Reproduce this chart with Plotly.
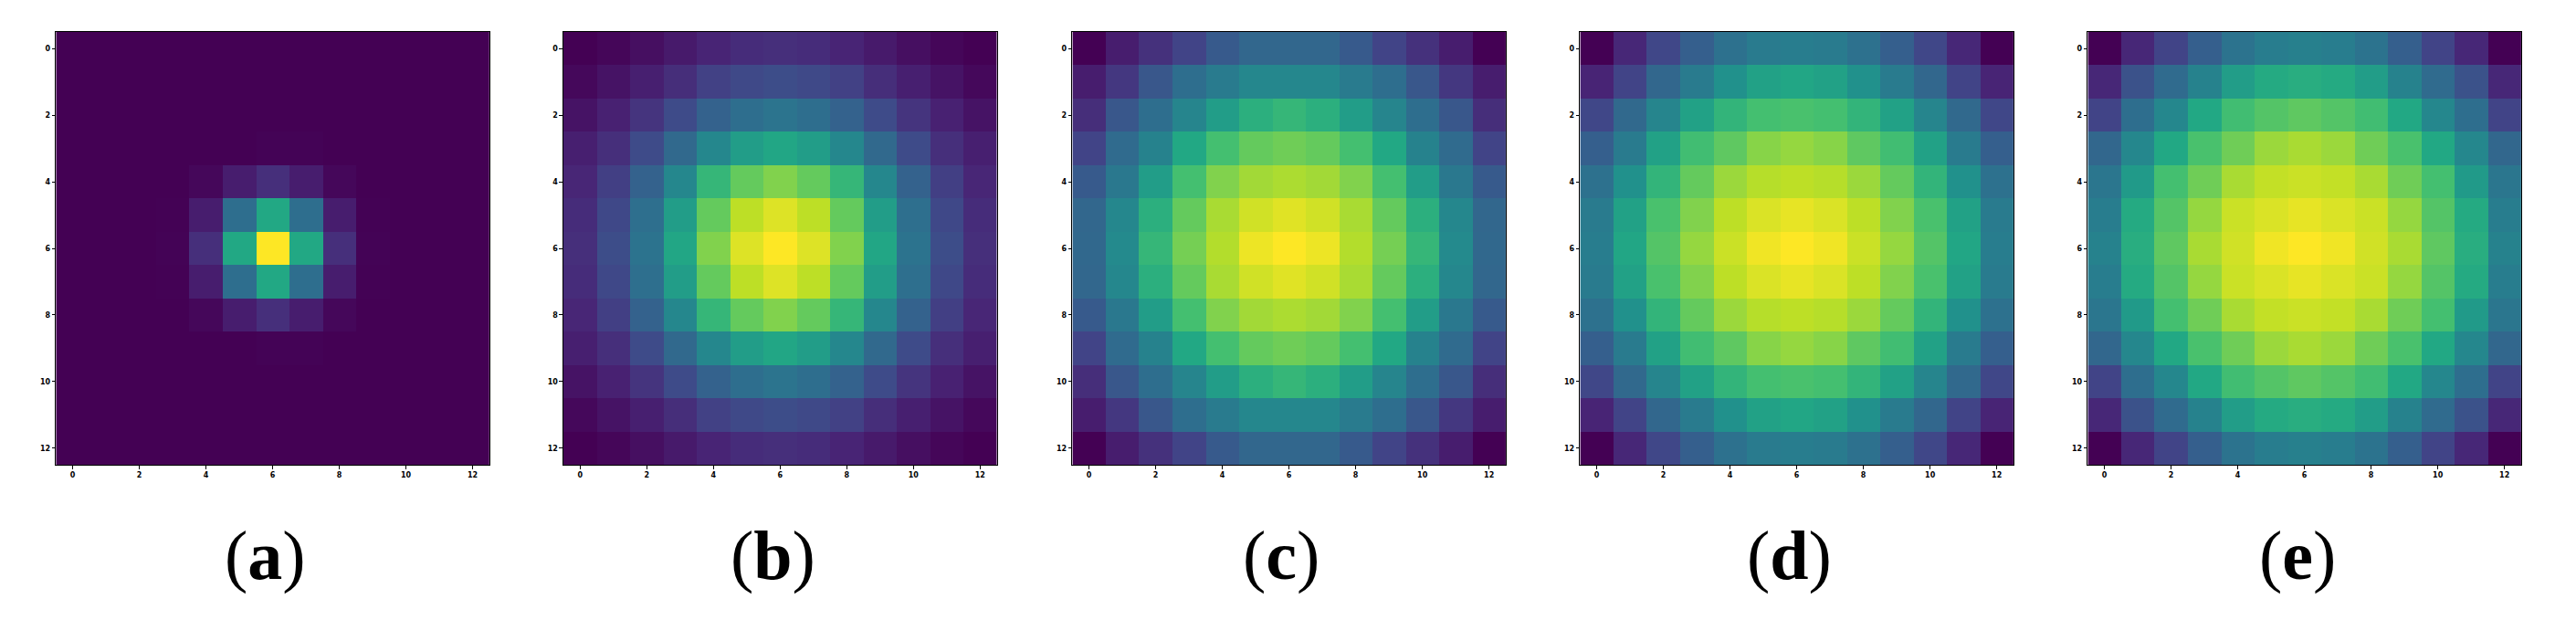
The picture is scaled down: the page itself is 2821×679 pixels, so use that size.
import plotly.graph_objects as go

W, H = 2821, 679

grid_a = [
 [0,0,0,0,0,0,0,0,0,0,0,0,0],
 [0,0,0,0,0,0,0,0,0,0,0,0,0],
 [0,0,0,0,0,0,0,0,0,0,0,0,0],
 [0,0,0,0,0,0.001,0.005,0.005,0.001,0,0,0,0],
 [0,0,0,0.001,0.018,0.08,0.135,0.08,0.018,0.001,0,0,0],
 [0,0,0,0.002,0.08,0.36,0.6,0.36,0.08,0.002,0,0,0],
 [0,0,0,0.006,0.135,0.6,1.0,0.6,0.135,0.006,0,0,0],
 [0,0,0,0.002,0.08,0.36,0.6,0.36,0.08,0.002,0,0,0],
 [0,0,0,0.001,0.018,0.08,0.135,0.08,0.018,0.001,0,0,0],
 [0,0,0,0,0,0.001,0.005,0.005,0.001,0,0,0,0],
 [0,0,0,0,0,0,0,0,0,0,0,0,0],
 [0,0,0,0,0,0,0,0,0,0,0,0,0],
 [0,0,0,0,0,0,0,0,0,0,0,0,0],
]
grid_b = [
 [.00,.015,.04,.07,.10,.125,.135,.125,.10,.07,.04,.015,.00],
 [.02,.05,.085,.13,.19,.22,.235,.22,.19,.13,.085,.05,.02],
 [.05,.09,.15,.225,.31,.36,.385,.36,.31,.225,.15,.09,.05],
 [.085,.135,.225,.34,.46,.55,.59,.55,.46,.34,.225,.135,.085],
 [.105,.185,.31,.46,.66,.76,.81,.76,.66,.46,.31,.185,.105],
 [.125,.215,.365,.55,.76,.90,.95,.90,.76,.55,.365,.215,.125],
 [.135,.235,.38,.59,.81,.95,1.0,.95,.81,.59,.38,.235,.135],
 [.125,.215,.365,.55,.76,.90,.95,.90,.76,.55,.365,.215,.125],
 [.105,.185,.31,.46,.66,.76,.81,.76,.66,.46,.31,.185,.105],
 [.085,.135,.225,.34,.46,.55,.59,.55,.46,.34,.225,.135,.085],
 [.05,.09,.15,.225,.31,.36,.385,.36,.31,.225,.15,.09,.05],
 [.02,.05,.085,.13,.19,.22,.235,.22,.19,.13,.085,.05,.02],
 [.00,.015,.04,.07,.10,.125,.135,.125,.10,.07,.04,.015,.00],
]
grid_c = [
 [.00,.08,.14,.20,.28,.33,.33,.33,.28,.20,.14,.08,.00],
 [.08,.16,.27,.36,.41,.46,.46,.46,.41,.36,.27,.16,.08],
 [.13,.27,.36,.45,.55,.63,.66,.63,.55,.45,.36,.27,.13],
 [.20,.35,.44,.60,.70,.76,.78,.76,.70,.60,.44,.35,.20],
 [.28,.40,.55,.70,.81,.86,.875,.86,.81,.70,.55,.40,.28],
 [.33,.46,.63,.76,.87,.93,.955,.93,.87,.76,.63,.46,.33],
 [.335,.47,.66,.79,.885,.975,1.0,.975,.885,.79,.66,.47,.335],
 [.33,.46,.63,.76,.87,.93,.955,.93,.87,.76,.63,.46,.33],
 [.28,.40,.55,.70,.81,.86,.875,.86,.81,.70,.55,.40,.28],
 [.20,.35,.44,.60,.70,.76,.78,.76,.70,.60,.44,.35,.20],
 [.13,.27,.36,.45,.55,.63,.66,.63,.55,.45,.36,.27,.13],
 [.08,.16,.27,.36,.41,.46,.46,.46,.41,.36,.27,.16,.08],
 [.00,.08,.14,.20,.28,.33,.33,.33,.28,.20,.14,.08,.00],
]
grid_d = [
 [.00,.11,.21,.30,.37,.41,.42,.41,.37,.30,.21,.11,.00],
 [.10,.20,.33,.41,.50,.57,.59,.57,.50,.41,.33,.20,.10],
 [.21,.34,.45,.57,.65,.70,.71,.70,.65,.57,.45,.34,.21],
 [.30,.41,.57,.69,.75,.82,.84,.82,.75,.69,.57,.41,.30],
 [.37,.50,.65,.76,.85,.89,.90,.89,.85,.76,.65,.50,.37],
 [.41,.57,.71,.81,.90,.945,.965,.945,.90,.81,.71,.57,.41],
 [.42,.59,.73,.84,.92,.98,1.0,.98,.92,.84,.73,.59,.42],
 [.41,.57,.71,.81,.90,.945,.965,.945,.90,.81,.71,.57,.41],
 [.37,.50,.65,.76,.85,.89,.90,.89,.85,.76,.65,.50,.37],
 [.30,.41,.57,.69,.75,.82,.84,.82,.75,.69,.57,.41,.30],
 [.21,.34,.45,.57,.65,.70,.71,.70,.65,.57,.45,.34,.21],
 [.10,.20,.33,.41,.50,.57,.59,.57,.50,.41,.33,.20,.10],
 [.00,.11,.21,.30,.37,.41,.42,.41,.37,.30,.21,.11,.00],
]
grid_e = [
 [.00,.11,.20,.30,.38,.42,.43,.42,.38,.30,.20,.11,.00],
 [.11,.25,.35,.44,.55,.61,.62,.61,.55,.44,.35,.25,.11],
 [.20,.36,.46,.60,.69,.73,.75,.73,.69,.60,.46,.36,.20],
 [.33,.46,.60,.71,.78,.85,.87,.85,.78,.71,.60,.46,.33],
 [.39,.54,.70,.78,.87,.91,.92,.91,.87,.78,.70,.54,.39],
 [.42,.61,.73,.84,.92,.945,.965,.945,.92,.84,.73,.61,.42],
 [.44,.62,.75,.87,.93,.98,1.0,.98,.93,.87,.75,.62,.44],
 [.42,.61,.73,.84,.92,.945,.965,.945,.92,.84,.73,.61,.42],
 [.39,.54,.70,.78,.87,.91,.92,.91,.87,.78,.70,.54,.39],
 [.33,.46,.60,.71,.78,.85,.87,.85,.78,.71,.60,.46,.33],
 [.20,.36,.46,.60,.69,.73,.75,.73,.69,.60,.46,.36,.20],
 [.11,.25,.35,.44,.55,.61,.62,.61,.55,.44,.35,.25,.11],
 [.00,.11,.20,.30,.38,.42,.43,.42,.38,.30,.20,.11,.00],
]
grids = [grid_a, grid_b, grid_c, grid_d, grid_e]
captions = ["a", "b", "c", "d", "e"]
tick_values = [0, 2, 4, 6, 8, 10, 12]
cells = list(range(13))
viridis_colors = ["#440154", "#482475", "#414487", "#355f8d", "#2a788e", "#21918c",
                  "#22a884", "#44bf70", "#7ad151", "#bddf26", "#fde725"]
viridis = [[k / 10, c] for k, c in enumerate(viridis_colors)]

panel_left = [61.3, 617.0, 1174.4, 1730.4, 2286.4]
panel_size = 474.5
panel_top, panel_bottom = 35.0, 509.0
caption_x = [290.0, 846.0, 1403.0, 1959.0, 2516.0]
caption_y = 608.0

fig = go.Figure()
axis_style = dict(
    tickmode="array", tickvals=tick_values, ticks="outside", ticklen=3.5, tickwidth=1,
    tickcolor="black", showgrid=False, zeroline=False, showline=True, mirror=True,
    linecolor="black", linewidth=1.2, constrain="domain",
    tickfont=dict(family="DejaVu Sans", size=8, color="black", weight="bold"),
)
layout = {}
for i, (grid, left) in enumerate(zip(grids, panel_left)):
    n = "" if i == 0 else str(i + 1)
    fig.add_trace(go.Heatmap(
        z=grid, x=cells, y=cells, colorscale=viridis, zmin=0, zmax=1,
        showscale=False, xaxis=f"x{n}", yaxis=f"y{n}", xgap=0, ygap=0,
    ))
    layout[f"xaxis{n}"] = dict(axis_style, range=[-0.5, 12.5], anchor=f"y{n}",
                               domain=[left / W, (left + panel_size) / W])
    layout[f"yaxis{n}"] = dict(axis_style, range=[12.5, -0.5], anchor=f"x{n}",
                               domain=[1 - panel_bottom / H, 1 - panel_top / H])
    fig.add_annotation(
        x=caption_x[i] / W, y=1 - caption_y / H, xref="paper", yref="paper",
        text=f"(<b>{captions[i]}</b>)", showarrow=False, xanchor="center", yanchor="middle",
        font=dict(family="Liberation Serif", size=76, color="black"),
    )

fig.update_layout(
    width=W, height=H, margin=dict(l=0, r=0, t=0, b=0),
    paper_bgcolor="white", plot_bgcolor="white", **layout,
)
fig.write_html("out.html", config={"displayModeBar": False},
               post_script="document.body.style.margin='0';document.body.style.overflow='hidden';")
